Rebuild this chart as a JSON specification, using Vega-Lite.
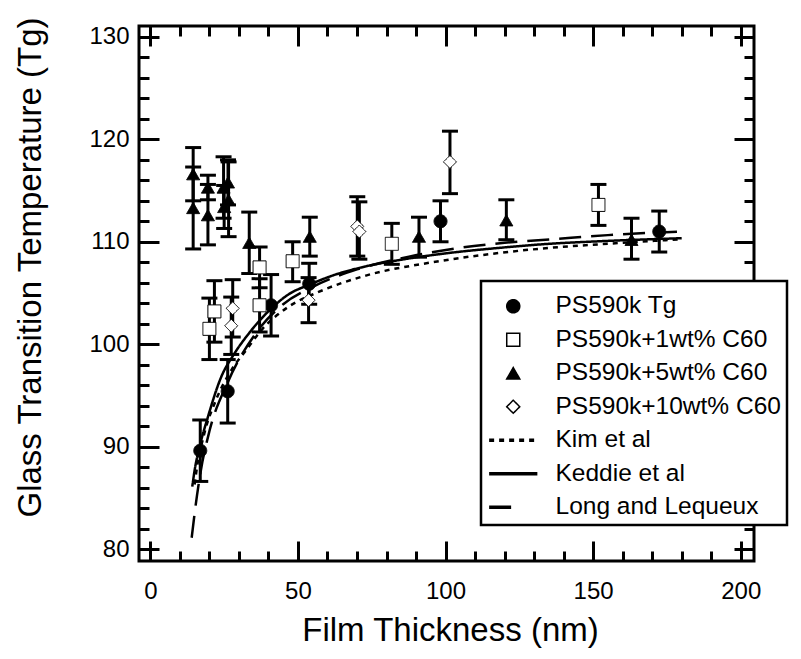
{
  "$schema": "https://vega.github.io/schema/vega-lite/v6.json",
  "width": 615,
  "height": 535,
  "autosize": "none",
  "padding": {"left": 139, "top": 26, "right": 47, "bottom": 98},
  "config": {
    "font": "Liberation Sans",
    "view": {"stroke": "black", "strokeWidth": 3},
    "axis": {"domain": false, "grid": false, "tickColor": "black", "tickWidth": 3, "labelColor": "black", "titleColor": "black"},
    "legend": {
      "titleFontSize": 3, "titlePadding": 4,
      "orient": "none", "legendX": 342, "legendY": 255, "direction": "vertical",
      "labelFontSize": 24.5, "labelColor": "black", "labelLimit": 400, "symbolSize": 170, "labelOffset": 30, "symbolOffset": 14,
      "rowPadding": 8.5, "padding": 6, "strokeColor": "black", "strokeWidth": 2.5, "fillColor": "white"
    }
  },
  "datasets": {
    "pts": [
      {"series": "PS590k Tg", "x": 16.9, "y": 89.6, "lo": 86.6, "hi": 92.6},
      {"series": "PS590k Tg", "x": 26.2, "y": 95.4, "lo": 92.3, "hi": 98.5},
      {"series": "PS590k Tg", "x": 40.9, "y": 103.8, "lo": 100.8, "hi": 106.8},
      {"series": "PS590k Tg", "x": 53.8, "y": 105.9, "lo": 103.9, "hi": 107.9},
      {"series": "PS590k Tg", "x": 98.3, "y": 112.0, "lo": 110.0, "hi": 114.0},
      {"series": "PS590k Tg", "x": 172.4, "y": 111.0, "lo": 109.0, "hi": 113.0},
      {"series": "PS590k+1wt% C60", "x": 20.0, "y": 101.5, "lo": 98.5, "hi": 104.5},
      {"series": "PS590k+1wt% C60", "x": 21.7, "y": 103.2, "lo": 100.2, "hi": 106.2},
      {"series": "PS590k+1wt% C60", "x": 37.0, "y": 107.5, "lo": 105.5, "hi": 109.5},
      {"series": "PS590k+1wt% C60", "x": 37.0, "y": 103.8, "lo": 101.2, "hi": 106.4},
      {"series": "PS590k+1wt% C60", "x": 48.2, "y": 108.1, "lo": 106.1, "hi": 110.0},
      {"series": "PS590k+1wt% C60", "x": 81.8, "y": 109.8, "lo": 107.8, "hi": 111.8},
      {"series": "PS590k+1wt% C60", "x": 151.8, "y": 113.6, "lo": 111.6, "hi": 115.6},
      {"series": "PS590k+5wt% C60", "x": 14.5, "y": 116.6, "lo": 114.0, "hi": 119.2},
      {"series": "PS590k+5wt% C60", "x": 14.5, "y": 113.3, "lo": 109.3, "hi": 117.3},
      {"series": "PS590k+5wt% C60", "x": 19.5, "y": 115.3, "lo": 114.1, "hi": 116.5},
      {"series": "PS590k+5wt% C60", "x": 19.5, "y": 112.6, "lo": 109.7, "hi": 115.6},
      {"series": "PS590k+5wt% C60", "x": 24.8, "y": 115.3, "lo": 112.3, "hi": 118.3},
      {"series": "PS590k+5wt% C60", "x": 26.5, "y": 114.1, "lo": 110.5, "hi": 117.8},
      {"series": "PS590k+5wt% C60", "x": 25.0, "y": 113.4, "lo": 111.3, "hi": 115.5},
      {"series": "PS590k+5wt% C60", "x": 26.3, "y": 115.8, "lo": 113.6, "hi": 118.0},
      {"series": "PS590k+5wt% C60", "x": 33.5, "y": 109.9, "lo": 106.9, "hi": 112.9},
      {"series": "PS590k+5wt% C60", "x": 54.0, "y": 110.5, "lo": 108.6, "hi": 112.4},
      {"series": "PS590k+5wt% C60", "x": 91.0, "y": 110.5, "lo": 108.5, "hi": 112.4},
      {"series": "PS590k+5wt% C60", "x": 120.6, "y": 112.1, "lo": 110.2, "hi": 114.1},
      {"series": "PS590k+5wt% C60", "x": 163.0, "y": 110.2, "lo": 108.3, "hi": 112.3},
      {"series": "PS590k+10wt% C60", "x": 27.9, "y": 103.5, "lo": 100.7, "hi": 106.3},
      {"series": "PS590k+10wt% C60", "x": 27.4, "y": 101.8, "lo": 99.0, "hi": 104.6},
      {"series": "PS590k+10wt% C60", "x": 53.6, "y": 104.3, "lo": 102.1, "hi": 106.5},
      {"series": "PS590k+10wt% C60", "x": 70.1, "y": 111.5, "lo": 108.6, "hi": 114.4},
      {"series": "PS590k+10wt% C60", "x": 70.8, "y": 111.0, "lo": 108.3, "hi": 113.9},
      {"series": "PS590k+10wt% C60", "x": 101.5, "y": 117.8, "lo": 114.7, "hi": 120.8}
    ],
    "curves": [
      {"series": "Kim et al", "x": 15.0, "y": 86.3},
      {"series": "Kim et al", "x": 15.5, "y": 87.4},
      {"series": "Kim et al", "x": 18.3, "y": 91.3},
      {"series": "Kim et al", "x": 22.3, "y": 94.6},
      {"series": "Kim et al", "x": 27.5, "y": 97.5},
      {"series": "Kim et al", "x": 32.4, "y": 99.4},
      {"series": "Kim et al", "x": 38.0, "y": 101.5},
      {"series": "Kim et al", "x": 46.5, "y": 103.6},
      {"series": "Kim et al", "x": 57.0, "y": 105.1},
      {"series": "Kim et al", "x": 73.0, "y": 106.7},
      {"series": "Kim et al", "x": 95.5, "y": 108.0},
      {"series": "Kim et al", "x": 118.0, "y": 108.9},
      {"series": "Kim et al", "x": 135.0, "y": 109.4},
      {"series": "Kim et al", "x": 152.0, "y": 109.75},
      {"series": "Kim et al", "x": 180.0, "y": 110.25},
      {"series": "Keddie et al", "x": 14.2, "y": 86.1},
      {"series": "Keddie et al", "x": 15.0, "y": 87.7},
      {"series": "Keddie et al", "x": 16.7, "y": 90.0},
      {"series": "Keddie et al", "x": 19.5, "y": 92.9},
      {"series": "Keddie et al", "x": 24.0, "y": 96.8},
      {"series": "Keddie et al", "x": 28.5, "y": 99.1},
      {"series": "Keddie et al", "x": 33.5, "y": 101.1},
      {"series": "Keddie et al", "x": 40.3, "y": 103.3},
      {"series": "Keddie et al", "x": 47.0, "y": 104.9},
      {"series": "Keddie et al", "x": 53.8, "y": 105.8},
      {"series": "Keddie et al", "x": 61.7, "y": 106.7},
      {"series": "Keddie et al", "x": 73.0, "y": 107.6},
      {"series": "Keddie et al", "x": 84.0, "y": 108.2},
      {"series": "Keddie et al", "x": 101.0, "y": 108.9},
      {"series": "Keddie et al", "x": 118.0, "y": 109.4},
      {"series": "Keddie et al", "x": 135.0, "y": 109.8},
      {"series": "Keddie et al", "x": 152.0, "y": 110.05},
      {"series": "Keddie et al", "x": 180.0, "y": 110.35},
      {"series": "Long and Lequeux", "x": 14.0, "y": 81.1},
      {"series": "Long and Lequeux", "x": 15.0, "y": 83.5},
      {"series": "Long and Lequeux", "x": 17.0, "y": 87.5},
      {"series": "Long and Lequeux", "x": 20.0, "y": 91.5},
      {"series": "Long and Lequeux", "x": 26.1, "y": 96.2},
      {"series": "Long and Lequeux", "x": 35.8, "y": 101.1},
      {"series": "Long and Lequeux", "x": 45.0, "y": 103.9},
      {"series": "Long and Lequeux", "x": 55.0, "y": 105.6},
      {"series": "Long and Lequeux", "x": 70.0, "y": 107.3},
      {"series": "Long and Lequeux", "x": 87.6, "y": 108.55},
      {"series": "Long and Lequeux", "x": 104.5, "y": 109.4},
      {"series": "Long and Lequeux", "x": 120.0, "y": 109.9},
      {"series": "Long and Lequeux", "x": 138.3, "y": 110.3},
      {"series": "Long and Lequeux", "x": 155.0, "y": 110.65},
      {"series": "Long and Lequeux", "x": 180.0, "y": 111.0}
    ]
  },
  "resolve": {"axis": {"x": "independent", "y": "independent"}},
  "layer": [
    {
      "data": {"name": "curves"},
      "mark": {"type": "line", "color": "black", "strokeWidth": 2.5, "interpolate": "monotone"},
      "encoding": {
        "x": {"field": "x", "type": "quantitative", "scale": {"domain": [-3.85, 204.5], "nice": false, "zero": false},
              "axis": {"orient": "bottom", "values": [0, 50, 100, 150, 200], "tickSize": -20, "labels": false, "title": null}},
        "y": {"field": "y", "type": "quantitative", "scale": {"domain": [78.83, 131.07], "nice": false, "zero": false},
              "axis": {"orient": "left", "values": [80, 90, 100, 110, 120, 130], "tickSize": -20, "labels": false, "title": null}},
        "detail": {"field": "series"},
        "strokeDash": {"field": "series", "type": "nominal", "legend": {"title": " "},
                       "scale": {"domain": ["PS590k Tg", "PS590k+1wt% C60", "PS590k+5wt% C60", "PS590k+10wt% C60", "Kim et al", "Keddie et al", "Long and Lequeux"],
                                 "range": [[1, 0], [1, 0], [1, 0], [1, 0], [5, 5], [1, 0], [22, 10]]}}
      }
    },
    {
      "data": {"name": "pts"},
      "mark": {"type": "rule", "color": "black", "strokeWidth": 3},
      "encoding": {
        "x": {"field": "x", "type": "quantitative",
              "axis": {"orient": "bottom", "values": [10, 20, 30, 40, 60, 70, 80, 90, 110, 120, 130, 140, 160, 170, 180, 190], "tickSize": -10, "labels": false, "title": null}},
        "y": {"field": "lo", "type": "quantitative",
              "axis": {"orient": "left", "values": [82, 84, 86, 88, 92, 94, 96, 98, 102, 104, 106, 108, 112, 114, 116, 118, 122, 124, 126, 128], "tickSize": -10, "labels": false, "title": null}},
        "y2": {"field": "hi"}
      }
    },
    {
      "data": {"name": "pts"},
      "mark": {"type": "tick", "orient": "horizontal", "color": "black", "thickness": 3, "size": 16, "opacity": 1},
      "encoding": {
        "x": {"field": "x", "type": "quantitative",
              "axis": {"orient": "top", "values": [0, 50, 100, 150, 200], "tickSize": -20, "labels": false, "title": null}},
        "y": {"field": "lo", "type": "quantitative",
              "axis": {"orient": "right", "values": [80, 90, 100, 110, 120, 130], "tickSize": -20, "labels": false, "title": null}}
      }
    },
    {
      "data": {"name": "pts"},
      "mark": {"type": "tick", "orient": "horizontal", "color": "black", "thickness": 3, "size": 16, "opacity": 1},
      "encoding": {
        "x": {"field": "x", "type": "quantitative",
              "axis": {"orient": "top", "values": [10, 20, 30, 40, 60, 70, 80, 90, 110, 120, 130, 140, 160, 170, 180, 190], "tickSize": -10, "labels": false, "title": null}},
        "y": {"field": "hi", "type": "quantitative",
              "axis": {"orient": "right", "values": [82, 84, 86, 88, 92, 94, 96, 98, 102, 104, 106, 108, 112, 114, 116, 118, 122, 124, 126, 128], "tickSize": -10, "labels": false, "title": null}}
      }
    },
    {
      "data": {"name": "pts"},
      "mark": {"type": "point", "filled": true, "opacity": 1, "stroke": "black", "strokeWidth": 1},
      "encoding": {
        "x": {"field": "x", "type": "quantitative",
              "axis": {"orient": "bottom", "values": [0, 50, 100, 150, 200], "ticks": false, "labelFontSize": 24, "labelPadding": 18, "labelFlush": false,
                       "title": "Film Thickness (nm)", "titleFontSize": 33, "titleFontWeight": "normal", "titleX": 311, "titleY": 79, "titleBaseline": "alphabetic"}},
        "y": {"field": "y", "type": "quantitative",
              "axis": {"orient": "left", "values": [80, 90, 100, 110, 120, 130], "ticks": false, "labelFontSize": 24, "labelPadding": 10, "labelFlush": false,
                       "title": "Glass Transition Temperature (Tg)", "titleFontSize": 33, "titleFontWeight": "normal", "titleX": -99, "titleY": 241, "titleAngle": 270, "titleAlign": "center", "titleBaseline": "alphabetic"}},
        "shape": {"field": "series", "type": "nominal", "legend": {"title": " "},
                  "scale": {"domain": ["PS590k Tg", "PS590k+1wt% C60", "PS590k+5wt% C60", "PS590k+10wt% C60", "Kim et al", "Keddie et al", "Long and Lequeux"],
                            "range": ["circle", "square", "triangle-up", "diamond",
                                      "M-3.7,-0.15H3.7M-3.7,0H3.7M-3.7,0.15H3.7",
                                      "M-3.7,-0.15H3.7M-3.7,0H3.7M-3.7,0.15H3.7",
                                      "M-3.7,-0.15H-0.2M-3.7,0H-0.2M-3.7,0.15H-0.2"]}},
        "fill": {"field": "series", "type": "nominal", "legend": {"title": " "},
                 "scale": {"domain": ["PS590k Tg", "PS590k+1wt% C60", "PS590k+5wt% C60", "PS590k+10wt% C60", "Kim et al", "Keddie et al", "Long and Lequeux"],
                           "range": ["black", "white", "black", "white", "transparent", "transparent", "transparent"]}},
        "size": {"field": "series", "type": "nominal", "legend": {"title": " "},
                 "scale": {"domain": ["PS590k Tg", "PS590k+1wt% C60", "PS590k+5wt% C60", "PS590k+10wt% C60", "Kim et al", "Keddie et al", "Long and Lequeux"],
                           "range": [170, 170, 230, 190, 170, 170, 170]}},
        "strokeDash": {"field": "series", "type": "nominal", "legend": {"title": " "},
                 "scale": {"domain": ["PS590k Tg", "PS590k+1wt% C60", "PS590k+5wt% C60", "PS590k+10wt% C60", "Kim et al", "Keddie et al", "Long and Lequeux"],
                           "range": [[1, 0], [1, 0], [1, 0], [1, 0], [5, 5], [1, 0], [22, 10]]}}
      }
    }
  ]
}
